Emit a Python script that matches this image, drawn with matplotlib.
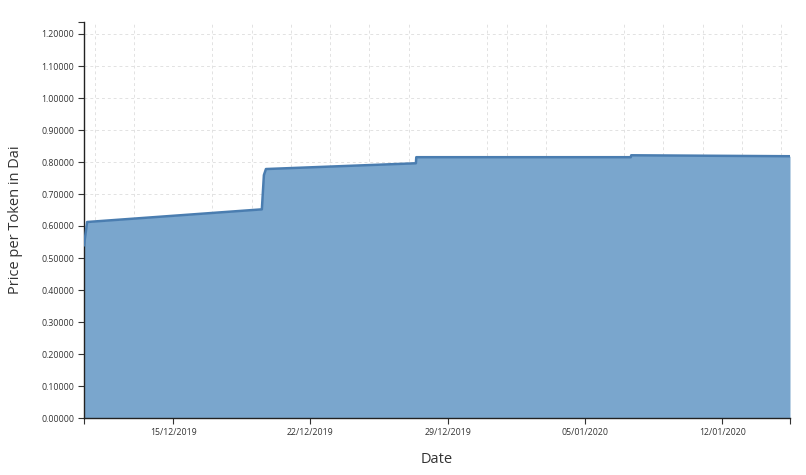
import matplotlib
matplotlib.use("Agg")
import matplotlib.pyplot as plt
import matplotlib.dates as mdates
import numpy as np
import pandas as pd

# price steps
times = ["2019-12-10 10:50", "2019-12-10 14:40", "2019-12-19 12:30",
         "2019-12-19 15:00", "2019-12-19 17:30", "2019-12-27 09:00",
         "2019-12-27 09:30", "2020-01-07 08:00", "2020-01-07 08:30",
         "2020-01-15 10:50"]
prices = [0.540, 0.6125, 0.652, 0.759, 0.778, 0.796, 0.815, 0.815, 0.821, 0.818]

x_start = "2019-12-10 10:50"
x_end = "2020-01-15 10:50"
week_ticks = ["2019-12-15", "2019-12-22", "2019-12-29", "2020-01-05", "2020-01-12"]
y_ticks = np.arange(0, 1.21, 0.1)
y_top = 1.2375

plt.rcParams['font.family'] = ['Open Sans', 'DejaVu Sans']

t = pd.to_datetime(times)
fig = plt.figure(figsize=(8.06, 4.75), dpi=100)
ax = fig.add_axes([84/806, 1-418/475, (790-84)/806, (418-22)/475])

ax.fill_between(t, prices, 0, color='#7aa6cd', linewidth=0, zorder=2)
ax.plot(t, prices, color='#4a7db0', linewidth=1.8, zorder=3)

xs, xe = pd.Timestamp(x_start), pd.Timestamp(x_end)
ax.set_xlim(xs, xe)
ax.set_ylim(0, y_top)

# weekly labelled ticks plus the outer ticks at both ends of the axis
xt = [xs] + list(pd.to_datetime(week_ticks)) + [xe]
ax.set_xticks(xt)
ax.set_xticklabels([''] + [d.strftime('%d/%m/%Y') for d in pd.to_datetime(week_ticks)] + [''])
ax.set_yticks(list(y_ticks) + [y_top])
ax.set_yticklabels(["%.5f" % v for v in y_ticks] + [''])

# dashed grid: every second day of month, every 0.1
ax.xaxis.set_minor_locator(mdates.DayLocator(bymonthday=range(1, 32, 2)))
ax.grid(True, which='minor', axis='x', color='#e2e2e2', linestyle=(0, (3, 3)), linewidth=0.7, zorder=1)
for v in y_ticks[1:]:
    ax.axhline(v, color='#e2e2e2', linestyle=(0, (3, 3)), linewidth=0.7, zorder=1)
ax.tick_params(axis='x', which='minor', length=0)
ax.tick_params(axis='both', which='major', labelsize=6.3, colors='#333333', length=4.5, width=0.8, pad=2.5)

for s in ['top', 'right']:
    ax.spines[s].set_visible(False)
for s in ['left', 'bottom']:
    ax.spines[s].set_color('#222222')
    ax.spines[s].set_linewidth(1.0)

ax.set_xlabel('Date', fontsize=10.5, color='#333333', labelpad=11)
ax.set_ylabel('Price per Token in Dai', fontsize=10.5, color='#333333', labelpad=13)

fig.savefig('out.png', dpi=100)
